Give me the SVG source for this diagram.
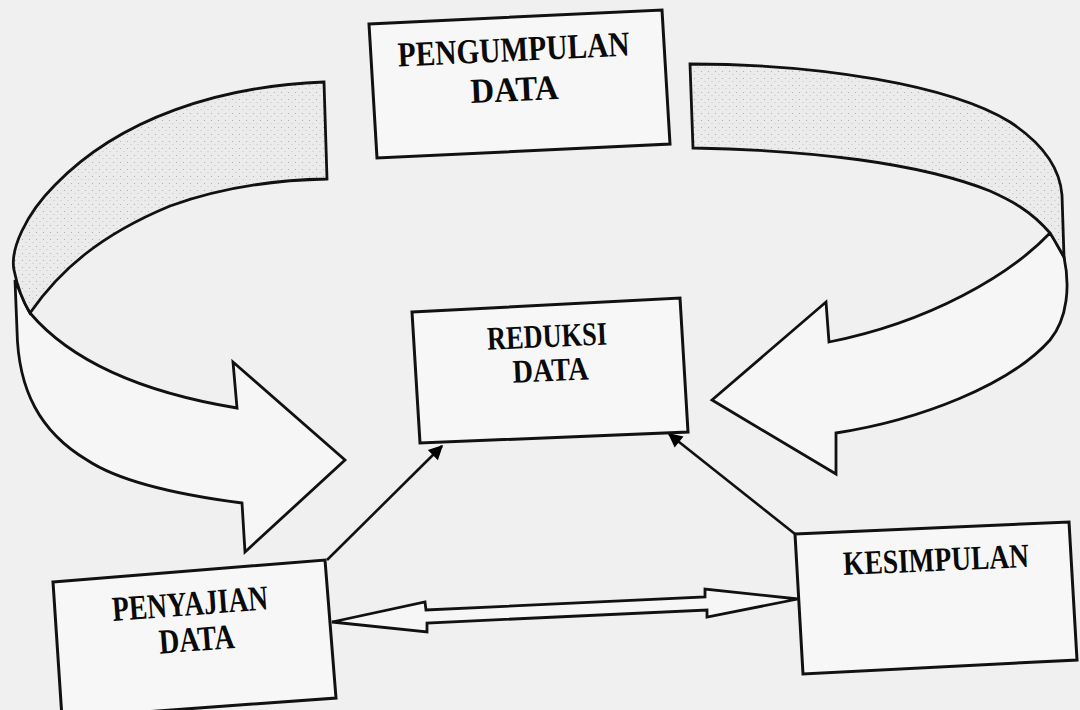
<svg xmlns="http://www.w3.org/2000/svg" width="1080" height="710" viewBox="0 0 1080 710">
<defs>
<pattern id="stip" width="7" height="7" patternUnits="userSpaceOnUse">
<rect width="7" height="7" fill="#ebebeb"/>
<circle cx="1.5" cy="1.5" r="0.6" fill="#a8a8a8"/>
<circle cx="5" cy="4.5" r="0.5" fill="#b8b8b8"/>
</pattern>
<marker id="ah" viewBox="0 0 10 10" refX="9" refY="5" markerWidth="6.5" markerHeight="5.5" orient="auto" markerUnits="strokeWidth">
<path d="M0,0 L10,5 L0,10 z" fill="#000"/>
</marker>
<style>
.box{fill:#f7f7f7;stroke:#111;stroke-width:3;stroke-linejoin:miter}
.rib{stroke:#111;stroke-width:2.8;stroke-linejoin:miter}
.lbl{font-family:"Liberation Serif","Times New Roman",serif;font-weight:bold;fill:#0a0a0a;text-anchor:middle}
.con{fill:none;stroke:#111;stroke-width:2.6}
</style>
</defs>
<rect width="1080" height="710" fill="#f0f0f0"/>

<g id="connectors">
<!-- left twisted ribbon arrow -->
<path class="rib" fill="#f6f6f6" d="M15,280 C20,292 24,303 30,313 C70,360 140,392 237,408 L233,362 L345,460 L245,552 L242,503 C180,495 120,482 87,460 C40,432 18,390 17,330 Z"/>
<path class="rib" fill="url(#stip)" d="M324,82 C220,86 120,118 55,185 C25,215 10,250 14,270 C18,290 24,303 30,313 C60,270 100,235 170,206 C220,188 270,180 327,179 Z"/>
<!-- right twisted ribbon arrow -->
<path class="rib" fill="#f6f6f6" d="M1050,233 C1010,275 930,322 829,342 L826,302 L712,400 L836,474 L836,433 C920,420 1010,385 1050,340 C1068,318 1070,285 1064,257 C1060,250 1056,241 1050,233 Z"/>
<path class="rib" fill="url(#stip)" d="M690,64 C820,64 950,85 1010,122 C1045,145 1060,170 1062,195 L1064,257 C1058,247 1054,239 1050,233 C1030,210 1010,200 990,191 C920,163 810,150 693,148 Z"/>
<!-- single arrows to REDUKSI -->
<line class="con" x1="327" y1="560" x2="442" y2="446" marker-end="url(#ah)"/>
<line class="con" x1="795" y1="534" x2="669" y2="434" marker-end="url(#ah)"/>
<!-- double block arrow -->
<path class="rib" fill="#f6f6f6" stroke-width="2.4" d="M332,622 L425,602 L426,610 L705,597 L705,589 L798,599 L707,617 L707,610 L427,623 L427,632 Z"/>
</g>

<g id="pengumpulan">
<polygon class="box" points="369,24 662,10 670,144 377,158"/>
<g transform="rotate(-2.7 515 80)">
<text class="lbl" x="515" y="61" font-size="35" textLength="232" lengthAdjust="spacingAndGlyphs">PENGUMPULAN</text>
<text class="lbl" x="514" y="101" font-size="35" textLength="88" lengthAdjust="spacingAndGlyphs">DATA</text>
</g>
</g>

<g id="reduksi">
<polygon class="box" points="412,312 680,298 688,432 420,443"/>
<g transform="rotate(-2.5 550 360)">
<text class="lbl" x="548" y="347" font-size="33" textLength="120" lengthAdjust="spacingAndGlyphs">REDUKSI</text>
<text class="lbl" x="550" y="381" font-size="33" textLength="76" lengthAdjust="spacingAndGlyphs">DATA</text>
</g>
</g>

<g id="penyajian">
<polygon class="box" points="53,582 325,560 336,698 62,718"/>
<g transform="rotate(-4.3 194 630)">
<text class="lbl" x="192" y="615" font-size="35" textLength="156" lengthAdjust="spacingAndGlyphs">PENYAJIAN</text>
<text class="lbl" x="196" y="651" font-size="35" textLength="76" lengthAdjust="spacingAndGlyphs">DATA</text>
</g>
</g>

<g id="kesimpulan">
<polygon class="box" points="795,534 1069,522 1077,660 803,674"/>
<g transform="rotate(-2.5 936 560)">
<text class="lbl" x="936" y="571" font-size="34" textLength="186" lengthAdjust="spacingAndGlyphs">KESIMPULAN</text>
</g>
</g>
</svg>
